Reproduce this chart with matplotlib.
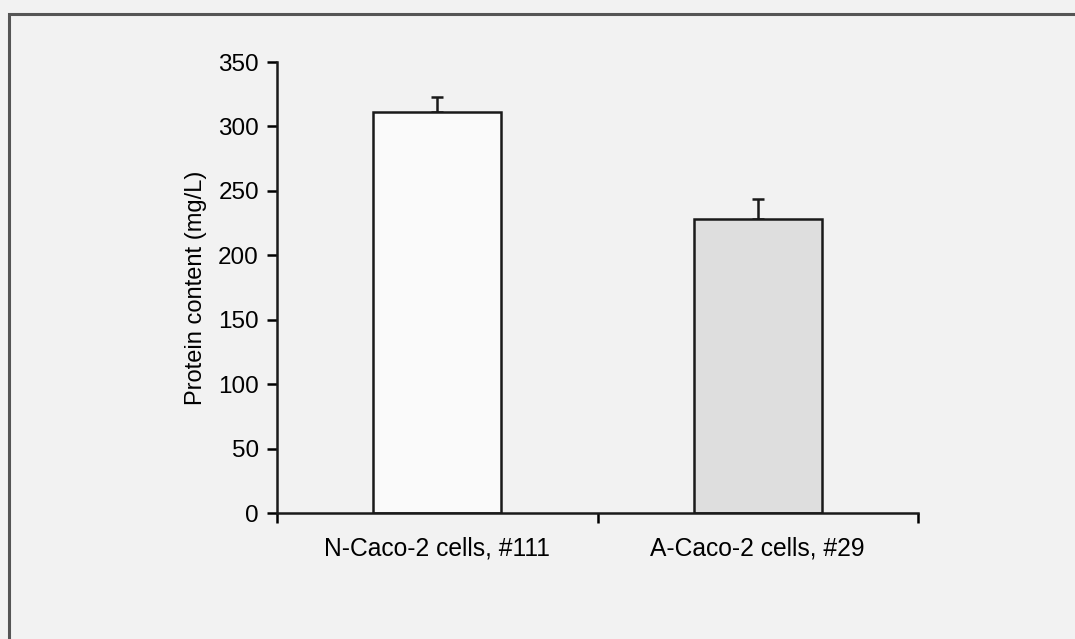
import matplotlib.pyplot as plt
from matplotlib.patches import Rectangle

categories = ['N-Caco-2 cells, #111', 'A-Caco-2 cells, #29']
protein = [311, 228]
errors = [12, 16]
yticks = [0, 50, 100, 150, 200, 250, 300, 350]

plt.rcParams['font.family'] = ['Liberation Sans', 'DejaVu Sans']

fig = plt.figure(figsize=(10.75, 6.39), dpi=100)
fig.patch.set_facecolor('#f2f2f2')
fig.patches.append(Rectangle((9 / 1075, -0.1), 1.2, 1 - 14 / 639 + 0.1,
                             transform=fig.transFigure, fill=False,
                             edgecolor='#555555', linewidth=2.2))

ax = fig.add_axes([277 / 1075, 1 - 513 / 639, (918 - 277) / 1075, (513 - 62) / 639])
ax.set_facecolor('#f2f2f2')

pos = [0.5, 1.5]
ax.bar(pos, protein, width=0.4, color=['#fafafa', '#dedede'],
       edgecolor='#1a1a1a', linewidth=1.8, zorder=2)
ax.errorbar(pos, protein, yerr=[[0, 0], errors], fmt='none', ecolor='#1a1a1a',
            elinewidth=1.8, capsize=4, capthick=1.8, zorder=1)

ax.set_xlim(0, 2)
ax.set_ylim(0, 350)
ax.set_yticks(yticks)
ax.set_xticks([0, 1, 2])
ax.set_xticklabels([])
ax.set_xticks(pos, minor=True)
ax.set_xticklabels(categories, minor=True)
ax.tick_params(axis='x', which='minor', length=0, pad=17, labelsize=17.7)
ax.tick_params(axis='x', which='major', length=7, width=1.8, direction='out')
ax.tick_params(axis='y', length=7, width=1.8, direction='out', labelsize=17.5, pad=6)

for s in ['top', 'right']:
    ax.spines[s].set_visible(False)
for s in ['left', 'bottom']:
    ax.spines[s].set_linewidth(1.8)
    ax.spines[s].set_color('#1a1a1a')

ax.set_ylabel('Protein content (mg/L)', fontsize=17, labelpad=8)

fig.savefig('out.png', dpi=100, facecolor=fig.get_facecolor())
